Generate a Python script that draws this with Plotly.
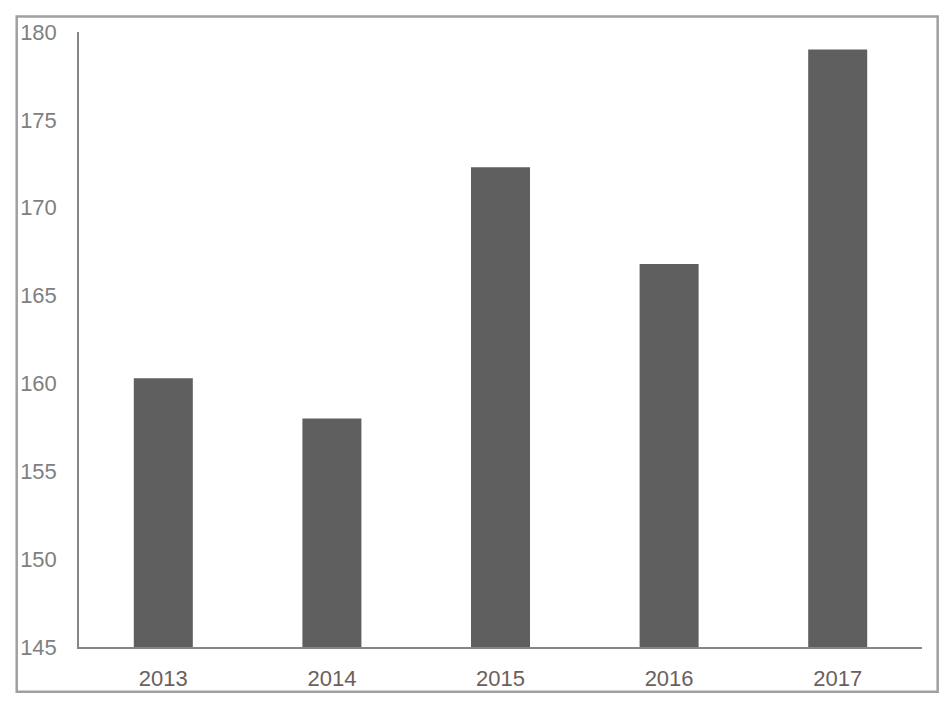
import plotly.graph_objects as go

# 年度數值
years = ["2013", "2014", "2015", "2016", "2017"]
values = [160.3, 158.0, 172.3, 166.8, 179.0]
y_ticks = [145, 150, 155, 160, 165, 170, 175, 180]

# 頁面 body 有 8px 邊距, 圖表尺寸縮小以免出現捲軸
W, H = 931, 695
L, R, T, B = 64, 17, 17, 47
pw, ph = W - L - R, H - T - B

fig = go.Figure(go.Bar(
    x=years,
    y=values,
    marker=dict(color="#5f5f5f", line=dict(width=0)),
))

# 外框 (畫在 paper 座標之外)
fig.add_shape(
    type="rect", xref="paper", yref="paper",
    x0=(1.2 - L) / pw, x1=(W - 1.2 - L) / pw,
    y0=(H - B - (H - 1.2)) / ph, y1=(H - B - 1.2) / ph,
    line=dict(color="#a0a0a0", width=2.5),
    fillcolor="rgba(0,0,0,0)",
)

fig.update_layout(
    width=W, height=H,
    margin=dict(l=L, r=R, t=T, b=B),
    paper_bgcolor="white",
    plot_bgcolor="white",
    bargap=0.65,
    showlegend=False,
    font=dict(family="Liberation Sans, Arial", size=22),
    xaxis=dict(
        showgrid=False,
        showline=True, linecolor="#868686", linewidth=1.5,
        ticks="", tickfont=dict(color="#6b605b", size=22),
        ticklabelstandoff=11,
    ),
    yaxis=dict(
        range=[145, 180],
        tickvals=y_ticks,
        showgrid=False, zeroline=False,
        showline=True, linecolor="#868686", linewidth=1.5,
        ticks="", tickfont=dict(color="#808080", size=22),
        ticklabelstandoff=16,
    ),
)

fig.write_html("out.html")
